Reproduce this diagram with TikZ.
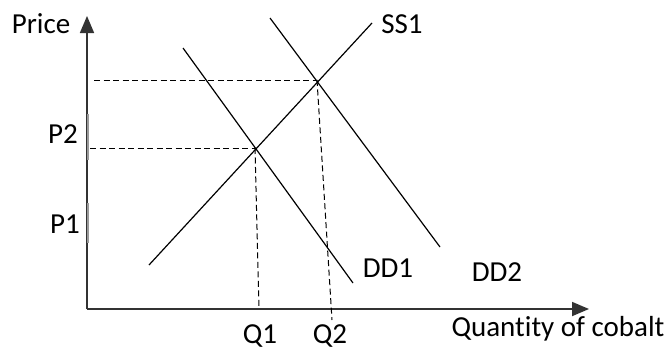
\documentclass[tikz,border=0pt]{standalone}
\usepackage{fontspec}
\setmainfont[Ligatures={NoCommon}]{Carlito}
\usetikzlibrary{arrows.meta}
\begin{document}
\begin{tikzpicture}[x=1pt,y=-1pt,
  axis/.style={draw=black!80,line width=1.8pt},
  curve/.style={draw=black,line width=1.2pt},
  guide/.style={draw=black,line width=1pt,dash pattern=on 6pt off 3.5pt},
  lbl/.style={font=\fontsize{29}{33}\selectfont,inner sep=0pt}]
\useasboundingbox (0,0) rectangle (670,351);
% axes
\coordinate (O) at (87,309);
\coordinate (ytop) at (87,16);
\coordinate (xend) at (589,309);
\draw[axis,-{Triangle[length=17pt,width=14pt]}] (O) -- (ytop);
\draw[axis,-{Triangle[length=17pt,width=14pt]}] (O) -- (xend);
% faint marks on the price axis
\draw[black!40,line width=1.4pt] (88,114) -- (88,160);
\draw[black!40,line width=1.4pt] (88,203) -- (88,243);
% curves
\coordinate (ss0) at (149,265);
\coordinate (ss1) at (372,23);
\coordinate (d10) at (183,48);
\coordinate (d11) at (353,283);
\coordinate (d20) at (270,18);
\coordinate (d21) at (440,247);
\coordinate (E1) at (255,148);
\coordinate (E2) at (317,80);
\draw[curve] (ss0) -- (ss1);
\draw[curve] (d10) -- (d11);
\draw[curve] (d20) -- (d21);
% guides
\coordinate (p2a) at (90,148);
\coordinate (ptop) at (94,80);
\coordinate (q1a) at (259,309);
\coordinate (q2a) at (332,320);
\draw[guide] (p2a) -- (E1);
\draw[guide] (ptop) -- (E2);
\draw[guide] (E1) -- (q1a);
\draw[guide] (E2) -- (q2a);
% labels
\node[lbl,anchor=center] (price) at (41,24) {Price};
\node[lbl,anchor=center] (p2) at (63,134) {P2};
\node[lbl,anchor=center] (p1) at (65,224) {P1};
\node[lbl,anchor=center] (q1) at (260,336) {Q1};
\node[lbl,anchor=center] (q2) at (330,336) {Q2};
\node[lbl,anchor=center] (dd1) at (388,268) {DD1};
\node[lbl,anchor=center] (dd2) at (497,272) {DD2};
\node[lbl,anchor=center] (ss) at (402,24) {SS1};
\node[lbl,anchor=center] (qty) at (558,329) {Quantity of cobalt};
\end{tikzpicture}
\end{document}
